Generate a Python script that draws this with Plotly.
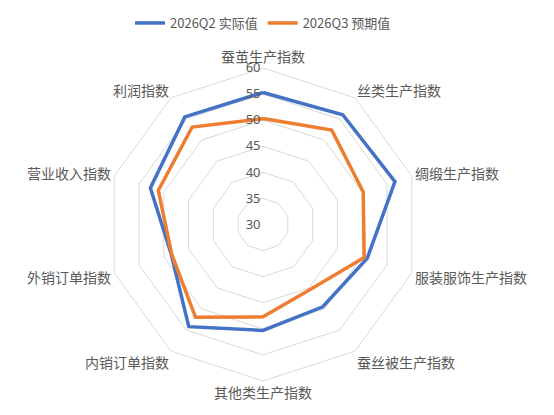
import plotly.graph_objects as go

categories = ["蚕茧生产指数", "丝类生产指数", "绸缎生产指数", "服装服饰生产指数", "蚕丝被生产指数",
              "其他类生产指数", "内销订单指数", "外销订单指数", "营业收入指数", "利润指数"]
q2_actual = [55.3, 56.0, 56.6, 51.0, 49.5, 50.3, 54.2, 48.5, 52.7, 55.5]
q3_expected = [50.3, 52.4, 50.2, 50.4, 45.4, 47.7, 52.0, 48.4, 51.1, 53.1]
radial_ticks = [30, 35, 40, 45, 50, 55, 60]

fig = go.Figure()
fig.add_trace(go.Scatterpolar(r=q2_actual + q2_actual[:1], theta=categories + categories[:1],
                              mode="lines", name="2026Q2 实际值",
                              line=dict(color="#4472C4", width=3.5)))
fig.add_trace(go.Scatterpolar(r=q3_expected + q3_expected[:1], theta=categories + categories[:1],
                              mode="lines", name="2026Q3 预期值",
                              line=dict(color="#ED7D31", width=3.5)))

fig.update_layout(
    width=554, height=415,
    margin=dict(l=0, r=44, t=60, b=42, autoexpand=False),
    paper_bgcolor="white",
    font=dict(family="Noto Sans CJK SC", color="#595959", size=14),
    legend=dict(orientation="h", x=0.5, xanchor="center", y=1.0, yanchor="top",
                yref="container", font=dict(size=13, color="#595959"),
                itemwidth=30, tracegroupgap=0),
    polar=dict(
        bgcolor="white",
        gridshape="linear",
        radialaxis=dict(range=[30, 60], tickvals=radial_ticks, angle=90, tickangle=90,
                        showline=False, ticks="", gridcolor="#d9d9d9",
                        ticksuffix="\u2007" * 9,
                        tickfont=dict(size=13, color="#595959", family="Noto Sans"),
                        side="counterclockwise"),
        angularaxis=dict(rotation=90, direction="clockwise", showgrid=False,
                         showline=True, linecolor="#d9d9d9", ticks="",
                         tickfont=dict(size=14, color="#595959")),
    ),
)

fig.write_html("out.html")
